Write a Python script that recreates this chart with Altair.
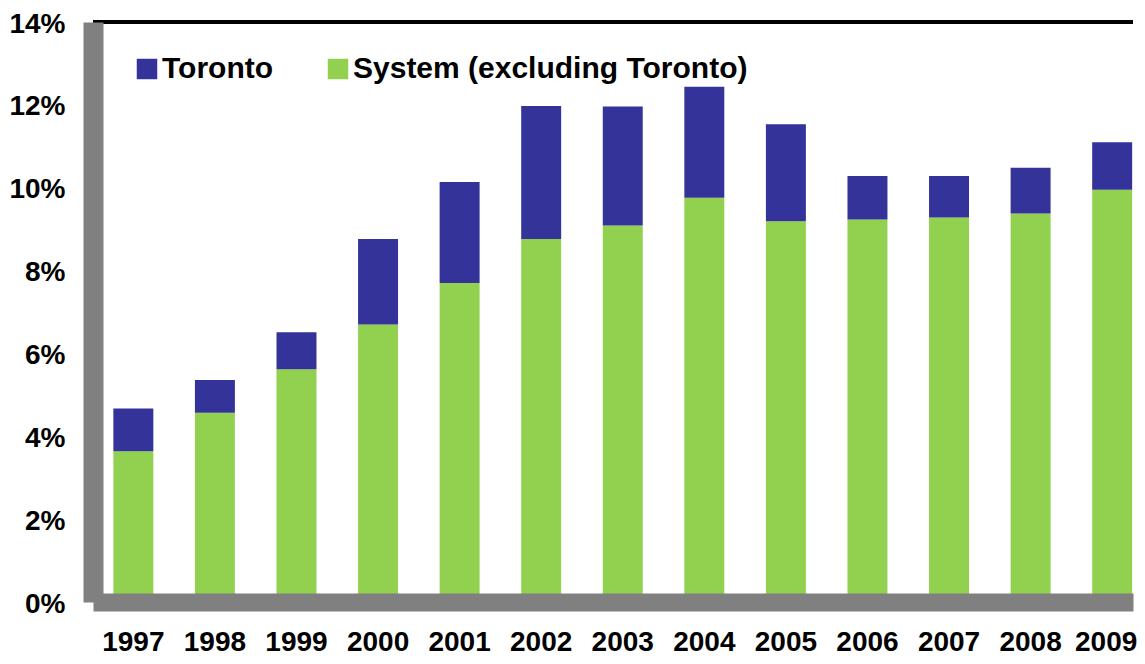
import altair as alt
import pandas as pd

years = ["1997", "1998", "1999", "2000", "2001", "2002", "2003",
         "2004", "2005", "2006", "2007", "2008", "2009"]
system_excl = [3.64, 4.57, 5.62, 6.70, 7.70, 8.76, 9.09, 9.76, 9.19, 9.23, 9.28, 9.38, 9.95]
toronto = [1.03, 0.79, 0.89, 2.06, 2.44, 3.21, 2.87, 2.68, 2.34, 1.05, 1.00, 1.10, 1.15]
series_names = ["Toronto", "System (excluding Toronto)"]
series_colors = ["#333399", "#92D050"]
y_ticks = [0, 2, 4, 6, 8, 10, 12, 14]

rows = []
for y, s, t in zip(years, system_excl, toronto):
    rows.append({"year": y, "series": series_names[1], "value": s, "ord": 0})
    rows.append({"year": y, "series": series_names[0], "value": t, "ord": 1})
df = pd.DataFrame(rows)

FONT = "Liberation Sans"

bars = alt.Chart(df).mark_bar().encode(
    x=alt.X("year:N", sort=years,
            scale=alt.Scale(paddingInner=0.51, paddingOuter=0.13, align=0.96),
            axis=alt.Axis(title=None, labelAngle=0, labelFontSize=28, labelFont=FONT,
                          labelFontWeight="bold", labelColor="black", labelPadding=48,
                          labelOffset={"condition": {"test": "datum.value === '2009'",
                                                     "value": -6},
                                       "value": 0},
                          ticks=False, domainColor="#808080", domainWidth=18,
                          labelBaseline="alphabetic", zindex=1)),
    y=alt.Y("value:Q", stack="zero",
            scale=alt.Scale(domain=[0, 14], nice=False),
            axis=alt.Axis(title=None, values=y_ticks, labelExpr="datum.value + '%'",
                          labelFontSize=28, labelFont=FONT, labelFontWeight="bold",
                          labelColor="black", labelPadding=28, labelOffset=2,
                          ticks=False, grid=False, domainColor="#808080",
                          domainWidth=20, zindex=1)),
    color=alt.Color("series:N",
                    scale=alt.Scale(domain=series_names, range=series_colors),
                    legend=alt.Legend(title=None, orient="none", legendX=39, legendY=32,
                                      direction="horizontal", symbolType="square",
                                      symbolSize=420, symbolStrokeWidth=0,
                                      symbolOpacity=1,
                                      labelFontSize=30, labelFont=FONT,
                                      labelFontWeight="bold", labelColor="black",
                                      labelOffset=0, columnPadding=49,
                                      labelLimit=600)),
    order=alt.Order("ord:Q", sort="ascending"),
)

top_line = alt.Chart(pd.DataFrame({"v": [y_ticks[-1]]})).mark_rule(
    color="black", strokeWidth=4
).encode(y="v:Q")

chart = alt.layer(bars, top_line).properties(
    width=1040, height=580,
    autosize=alt.AutoSizeParams(type="none"),
    padding={"left": 85, "top": 14, "right": 4, "bottom": 54},
).configure_view(stroke=None)

chart.save("out.html", embed_options={"renderer": "svg", "actions": False})
